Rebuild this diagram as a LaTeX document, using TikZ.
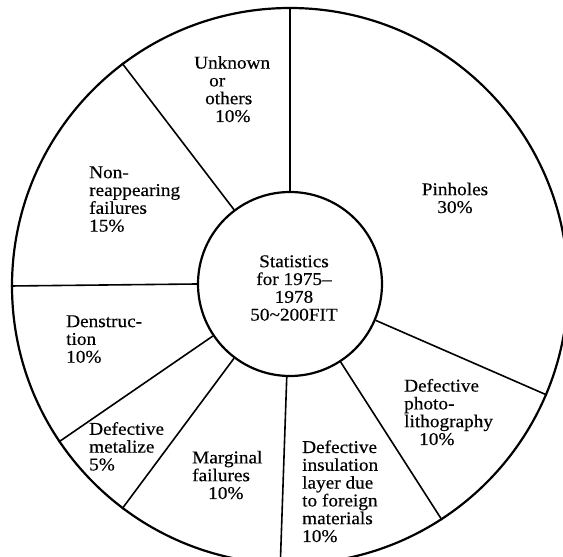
\documentclass[tikz,border=0pt]{standalone}
\usepackage{fontspec}
\setmainfont{Liberation Serif}[FakeStretch=1.07,FakeBold=0.4]
\begin{document}
\begin{tikzpicture}[x=1pt,y=1pt,
  lbl/.style={font=\fontsize{18}{17.8}\selectfont, inner sep=0pt, align=left, anchor=base west},
  clbl/.style={lbl, align=center, anchor=base},
  rim/.style={draw, line width=2.2pt, circle, inner sep=0pt},
  spoke/.style={line width=1.6pt}]
\useasboundingbox (0,0) rectangle (563,557);
\clip (0,0) rectangle (563,557);
\node[rim, minimum size=556pt] (outer) at (290,271) {};
\node[rim, minimum size=184pt] (hub) at (290,273) {};
% spokes
\draw[spoke] (hub.90) -- (outer.90);
\draw[spoke] (hub.-23.5) -- (outer.-23.5);
\draw[spoke] (hub.-57.8) -- (outer.-57.8);
\draw[spoke] (hub.-92.6) -- (outer.-92.6);
\draw[spoke] (hub.-127.5) -- (outer.-127.5);
\draw[spoke] (hub.-146.2) -- (outer.-146.2);
\draw[spoke] (hub.180) -- (outer.180);
\draw[spoke] (hub.127.2) -- (outer.127.2);
% labels (anchor at baseline of last line)
\node[clbl] (stats) at (294,236.4) {Statistics\\for 1975–\\1978\\50\textasciitilde200FIT};
\node[clbl] (pin) at (455,344) {Pinholes\\30\%};
\node[lbl] (unk) at (194,435) {Unknown\\\hspace*{15pt}or\\\hspace*{11pt}others\\\hspace*{21pt}10\%};
\node[lbl] (nonre) at (89,325.4) {Non-\\reappearing\\failures\\15\%};
\node[lbl] (dens) at (66,194.3) {Denstruc-\\tion\\10\%};
\node[lbl] (metal) at (89,86.6) {Defective\\metalize\\5\%};
\node[lbl] (marg) at (192,58) {Marginal\\failures\\\hspace*{16pt}10\%};
\node[lbl] (insul) at (302,15) {Defective\\insulation\\layer due\\to foreign\\materials\\10\%};
\node[lbl] (photo) at (404,112) {Defective\\photo-\\lithography\\\hspace*{15pt}10\%};
\end{tikzpicture}
\end{document}
